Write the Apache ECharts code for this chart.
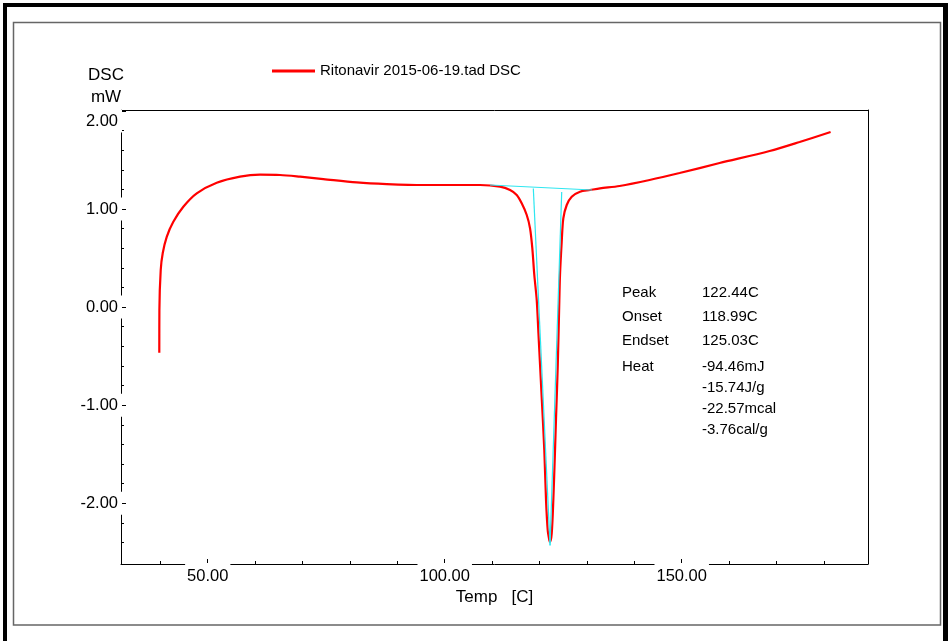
<!DOCTYPE html>
<html>
<head>
<meta charset="utf-8">
<title>Ritonavir DSC</title>
<script src="https://cdn.jsdelivr.net/npm/echarts@6.0.0/dist/echarts.min.js"></script>
<style>
  html, body { margin: 0; padding: 0; background: #fff; }
  #chart { width: 948px; height: 641px; }
</style>
</head>
<body>
<div id="chart"></div>
<script>
// DSC trace: temperature [C] and heat flow [mW]
const tempC = [39.78, 39.80, 40.08, 40.51, 41.35, 42.74, 44.85, 47.68, 51.90, 56.81,
  61.03, 65.25, 69.47, 74.39, 81.43, 87.76, 95.49, 102.53, 107.45, 111.67,
  113.78, 115.19, 116.24, 117.30, 118.00, 118.48, 118.90, 119.41, 119.77, 120.49,
  121.01, 121.37, 121.73, 122.07, 122.22, 122.57, 122.91, 123.27, 123.48, 123.84,
  124.18, 124.32, 124.68, 125.02, 125.74, 126.79, 128.54, 130.65, 132.76, 136.89,
  143.22, 149.55, 157.99, 168.54, 174.87, 181.41]
const dscMw = [-0.466, -0.031, 0.378, 0.551, 0.717, 0.870, 1.023, 1.160, 1.268, 1.330,
  1.350, 1.347, 1.330, 1.306, 1.272, 1.255, 1.245, 1.245, 1.245, 1.228,
  1.194, 1.143, 1.058, 0.939, 0.803, 0.599, 0.327, 0.071, -0.268, -0.949,
  -1.459, -1.969, -2.276, -2.378, -2.395, -2.309, -1.969, -1.459, -1.136, -0.609,
  0.071, 0.327, 0.666, 0.905, 1.041, 1.126, 1.177, 1.194, 1.211, 1.235,
  1.296, 1.367, 1.469, 1.592, 1.684, 1.786]

// peak analysis lines (cyan)
const baselineT = [109.56, 131.08]
const baselineMw = [1.245, 1.194]
const onsetLineT = [118.69, 122.22]
const onsetLineMw = [1.209, -2.43]
const endsetLineT = [124.68, 122.22]
const endsetLineMw = [1.173, -2.43]

const xMajorTicks = [50, 100, 150]
const xMinorTicks = [40, 60, 70, 80, 90, 110, 120, 130, 140, 160, 170, 180]
const yMajorTicks = [-2, -1, 0, 1, 2]
const yMinorTicks = [-2.4, -2.2, -1.8, -1.6, -1.4, -1.2, -0.8, -0.6, -0.4, -0.2,
  0.2, 0.4, 0.6, 0.8, 1.2, 1.4, 1.6, 1.8]

const annotLabels = ['Peak', 'Onset', 'Endset', 'Heat']
const annotValues = ['122.44C', '118.99C', '125.03C', '-94.46mJ', '-15.74J/g', '-22.57mcal', '-3.76cal/g']

const seriesName = 'Ritonavir 2015-06-19.tad DSC'

const FONT = '"Liberation Sans", Arial, Helvetica, sans-serif'
const X_MIN = 31.7, X_MAX = 189.3
const Y_MIN = -2.62, Y_MAX = 2.01

const zip = (xs, ys) => xs.map((x, i) => [x, ys[i]])

const labelRowY = [292.7, 316.7, 341, 366.7]
const valueRowY = [292.7, 316.7, 341, 366.7, 388, 408.5, 429.5]

function textEl(text, x, y) {
  return {
    type: 'text', x, y, silent: true,
    style: { text, fill: '#000', font: '15px ' + FONT, verticalAlign: 'middle' },
  }
}

const chart = echarts.init(document.getElementById('chart'))

const hiddenBits = {
  axisLabel: { show: false },
  splitLine: { show: false },
  nameMoveOverlap: false,
}

chart.setOption({
  animation: false,
  backgroundColor: '#fff',
  grid: { left: 121, top: 110, right: 80, bottom: 77, containLabel: false, outerBoundsMode: 'none' },
  legend: {
    data: [seriesName],
    left: 272,
    top: 63.5,
    padding: 0,
    icon: 'rect',
    itemWidth: 43,
    itemHeight: 3,
    selectedMode: false,
    textStyle: { fontSize: 15, color: '#000', fontFamily: FONT },
  },
  xAxis: [
    {
      type: 'value', min: X_MIN, max: X_MAX, position: 'bottom',
      name: 'Temp   [C]', nameLocation: 'middle', nameGap: 25, nameMoveOverlap: false,
      nameTextStyle: { fontSize: 17, color: '#000', fontFamily: FONT },
      axisLine: { onZero: false, lineStyle: { color: '#000', width: 1 } },
      axisTick: { inside: true, length: 5, customValues: xMajorTicks, lineStyle: { color: '#000' } },
      axisLabel: {
        customValues: xMajorTicks,
        formatter: (v) => v.toFixed(2),
        fontSize: 16.5, color: '#000', fontFamily: FONT,
        margin: -1, padding: [4.5, 2, 0, 2], backgroundColor: '#fff',
      },
      splitLine: { show: false },
    },
    {
      type: 'value', min: X_MIN, max: X_MAX, position: 'bottom',
      axisLine: { show: false, onZero: false },
      axisTick: { inside: true, length: 3, customValues: xMinorTicks, lineStyle: { color: '#000' } },
      ...hiddenBits,
    },
    {
      type: 'value', min: X_MIN, max: X_MAX, position: 'top',
      axisLine: { show: true, onZero: false, lineStyle: { color: '#000', width: 1 } },
      axisTick: { show: false },
      ...hiddenBits,
    },
  ],
  yAxis: [
    {
      type: 'value', min: Y_MIN, max: Y_MAX, position: 'left',
      name: 'DSC\nmW', nameLocation: 'end', nameGap: 2, nameMoveOverlap: false,
      nameTextStyle: {
        fontSize: 17, lineHeight: 22, color: '#000', fontFamily: FONT,
        align: 'center', verticalAlign: 'bottom', padding: [0, 30, 0, 0],
      },
      axisLine: { onZero: false, lineStyle: { color: '#000', width: 1 } },
      axisTick: { inside: true, length: 5, customValues: yMajorTicks, lineStyle: { color: '#000' } },
      axisLabel: {
        customValues: yMajorTicks,
        margin: -1,
        formatter: (v) => Math.abs(v - 2) < 1e-9 ? '{sp| }\n{b|2.00}' : '{b|' + v.toFixed(2) + '}',
        rich: {
          b: {
            fontSize: 16.5, color: '#000', fontFamily: FONT,
            backgroundColor: '#fff', padding: [3, 4, 3, 0],
          },
          sp: { fontSize: 10, height: 20, lineHeight: 20 },
        },
      },
      splitLine: { show: false },
    },
    {
      type: 'value', min: Y_MIN, max: Y_MAX, position: 'left',
      axisLine: { show: false, onZero: false },
      axisTick: { inside: true, length: 3, customValues: yMinorTicks, lineStyle: { color: '#000' } },
      ...hiddenBits,
    },
    {
      type: 'value', min: Y_MIN, max: Y_MAX, position: 'right',
      axisLine: { show: true, onZero: false, lineStyle: { color: '#000', width: 1 } },
      axisTick: { show: false },
      ...hiddenBits,
    },
  ],
  graphic: [
    { type: 'rect', silent: true, shape: { x: 13.5, y: 22.5, width: 927, height: 602.5 },
      style: { fill: 'none', stroke: '#666', lineWidth: 1.5 } },
    { type: 'rect', silent: true, shape: { x: 3, y: 3, width: 4, height: 638 }, style: { fill: '#000' } },
    { type: 'rect', silent: true, shape: { x: 3, y: 3, width: 945, height: 4 }, style: { fill: '#000' } },
    { type: 'rect', silent: true, shape: { x: 943, y: 3, width: 5, height: 638 }, style: { fill: '#000' } },
    ...annotLabels.map((t, i) => textEl(t, 622, labelRowY[i])),
    ...annotValues.map((t, i) => textEl(t, 702, valueRowY[i])),
  ],
  series: [
    {
      name: seriesName,
      type: 'line',
      data: zip(tempC, dscMw),
      symbol: 'none',
      smooth: 0.3,
      lineStyle: { color: '#ff0000', width: 2.2 },
      itemStyle: { color: '#ff0000' },
      z: 2,
    },
    ...[zip(baselineT, baselineMw), zip(onsetLineT, onsetLineMw), zip(endsetLineT, endsetLineMw)].map((d) => ({
      type: 'line',
      data: d,
      symbol: 'none',
      silent: true,
      lineStyle: { color: '#2ee6f0', width: 1.2 },
      z: 3,
    })),
  ],
})
</script>
</body>
</html>
